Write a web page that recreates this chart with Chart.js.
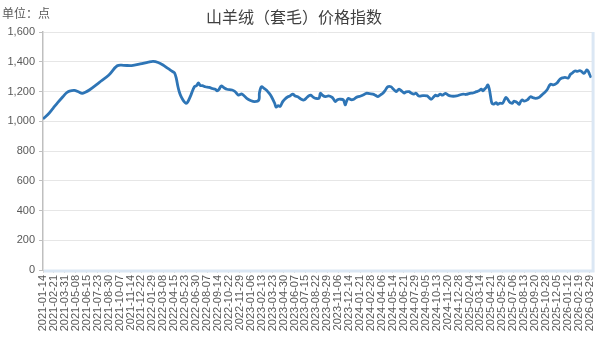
<!DOCTYPE html>
<html>
<head>
<meta charset="utf-8">
<script src="https://cdn.jsdelivr.net/npm/chart.js@4/dist/chart.umd.min.js"></script>
<style>
  html, body { margin: 0; padding: 0; background: #fff; }
  #wrap { width: 605px; height: 341px; position: relative; }
</style>
</head>
<body>
<div id="wrap"><canvas id="chart"></canvas></div>
<script>
// Chart title and unit
const chartTitle = '山羊绒（套毛）价格指数';
const unitLabel = '单位：点';

// Start date of the series, x values are days since this date
const startDate = '2021-01-14';

// Days since start date
const dayOffsets = [
    0, 17, 35, 51, 69, 82, 92, 109, 123, 136, 147, 161, 195, 229, 258, 280, 308, 338, 366, 383,
    400, 417, 434, 451, 457, 463, 469, 474, 480, 489, 497, 503, 514, 526, 534, 540, 547, 554, 564, 578,
    588, 599, 605, 612, 619, 629, 639, 657, 667, 679, 691, 708, 721, 735, 750, 752, 759, 769, 776, 787,
    794, 805, 810, 817, 824, 833, 841, 851, 858, 868, 876, 885, 896, 907, 917, 923, 930, 940, 947, 959,
    964, 971, 982, 992, 1004, 1009, 1016, 1023, 1033, 1044, 1050, 1055, 1061, 1070, 1080, 1088, 1095, 1104, 1112, 1123,
    1135, 1146, 1155, 1164, 1173, 1181, 1190, 1198, 1209, 1218, 1227, 1233, 1238, 1248, 1255, 1262, 1272, 1279, 1289, 1296,
    1306, 1320, 1335, 1341, 1349, 1358, 1364, 1371, 1380, 1388, 1398, 1406, 1415, 1426, 1437, 1450, 1460, 1470, 1483, 1494,
    1506, 1515, 1523, 1529, 1534, 1541, 1546, 1551, 1555, 1560, 1566, 1575, 1580, 1587, 1597, 1608, 1614, 1620, 1624, 1631,
    1636, 1642, 1648, 1655, 1659, 1665, 1672, 1683, 1694, 1703, 1711, 1723, 1731, 1740, 1751, 1763, 1774, 1785, 1797, 1806,
    1814, 1825, 1833, 1840, 1848, 1857, 1865, 1871, 1879, 1884, 1890, 1895, 1899, 1905
];

// Index values (points)
const indexValues = [
    1015, 1045, 1087, 1125, 1165, 1192, 1203, 1208, 1198, 1188, 1195, 1210, 1260, 1311, 1373, 1376, 1374, 1385, 1398, 1403,
    1395, 1378, 1355, 1333, 1325, 1290, 1232, 1195, 1165, 1135, 1121, 1130, 1176, 1232, 1240, 1258, 1240, 1239, 1232, 1228,
    1220, 1215, 1205, 1215, 1237, 1225, 1215, 1210, 1200, 1176, 1183, 1154, 1140, 1132, 1143, 1190, 1232, 1220, 1210, 1185,
    1165, 1121, 1095, 1105, 1100, 1132, 1150, 1165, 1170, 1183, 1170, 1165, 1150, 1143, 1160, 1170, 1176, 1160, 1154, 1154,
    1188, 1175, 1165, 1170, 1161, 1150, 1132, 1145, 1148, 1143, 1110, 1135, 1154, 1145, 1148, 1160, 1165, 1170, 1176, 1188,
    1185, 1183, 1175, 1165, 1178, 1188, 1210, 1232, 1232, 1215, 1199, 1210, 1215, 1200, 1190, 1198, 1199, 1190, 1183, 1188,
    1170, 1172, 1170, 1160, 1148, 1165, 1176, 1170, 1183, 1175, 1188, 1178, 1170, 1168, 1170, 1178, 1183, 1180, 1188, 1190,
    1199, 1205, 1215, 1205, 1215, 1230, 1244, 1215, 1170, 1121, 1115, 1125, 1114, 1121, 1121, 1159, 1150, 1132, 1125, 1121,
    1135, 1132, 1125, 1114, 1130, 1143, 1135, 1143, 1165, 1158, 1154, 1159, 1172, 1188, 1210, 1248, 1244, 1255, 1284, 1292,
    1295, 1291, 1316, 1325, 1338, 1335, 1340, 1335, 1322, 1330, 1345, 1335, 1316, 1293
];

// X axis tick labels (every 38 days)
const tickLabels = [
    '2021-01-14', '2021-02-21', '2021-03-31', '2021-05-08', '2021-06-15', '2021-07-23', '2021-08-30',
    '2021-10-07', '2021-11-14', '2021-12-22', '2022-01-29', '2022-03-08', '2022-04-15', '2022-05-23',
    '2022-06-30', '2022-08-07', '2022-09-14', '2022-10-22', '2022-11-29', '2023-01-06', '2023-02-13',
    '2023-03-23', '2023-04-30', '2023-06-07', '2023-07-15', '2023-08-22', '2023-09-29', '2023-11-06',
    '2023-12-14', '2024-01-21', '2024-02-28', '2024-04-06', '2024-05-14', '2024-06-21', '2024-07-29',
    '2024-09-05', '2024-10-13', '2024-11-20', '2024-12-28', '2025-02-04', '2025-03-14', '2025-04-21',
    '2025-05-29', '2025-07-06', '2025-08-13', '2025-09-20', '2025-10-28', '2025-12-05', '2026-01-12',
    '2026-02-19', '2026-03-29'
];

// Turn a date string into days since the start date
function toDays(dateStr) {
    return Math.round((Date.parse(dateStr) - Date.parse(startDate)) / 86400000);
}

const tickDays = tickLabels.map(toDays);
const seriesData = dayOffsets.map((d, i) => ({ x: d, y: indexValues[i] }));

// Draws the title, unit label and the light blue frame edges
const decorPlugin = {
    id: 'decor',
    afterDraw: (chart) => {
        const ctx = chart.ctx;
        const area = chart.chartArea;
        ctx.save();
        ctx.fillStyle = '#404040';
        ctx.font = '16px "Noto Sans CJK SC"';
        ctx.textAlign = 'center';
        ctx.textBaseline = 'middle';
        ctx.fillText(chartTitle, 294, 17);
        ctx.fillStyle = '#595959';
        ctx.font = '12px "Noto Sans CJK SC"';
        ctx.textAlign = 'left';
        ctx.fillText(unitLabel, 2, 13);

        ctx.strokeStyle = '#dbe7f4';
        ctx.lineWidth = 3;
        ctx.beginPath();
        ctx.moveTo(area.left + 1, area.bottom + 1);
        ctx.lineTo(area.right + 1, area.bottom + 1);
        ctx.lineTo(area.right + 1, area.top);
        ctx.stroke();
        ctx.restore();
    }
};

new Chart(document.getElementById('chart'), {
    type: 'line',
    data: {
        datasets: [{
            data: seriesData,
            borderColor: '#2e75b6',
            borderWidth: 2.8,
            pointRadius: 0,
            tension: 0.35,
            fill: false
        }]
    },
    options: {
        responsive: true,
        maintainAspectRatio: false,
        animation: false,
        layout: { padding: { top: 32, right: 4, left: 0, bottom: 0 } },
        plugins: {
            legend: { display: false },
            title: { display: false },
            tooltip: { enabled: false }
        },
        scales: {
            x: {
                type: 'linear',
                min: 0,
                max: 1908,
                afterBuildTicks: (scale) => {
                    scale.ticks = tickDays.map(v => ({ value: v }));
                },
                afterFit: (scale) => { scale.height = 71; },
                ticks: {
                    autoSkip: false,
                    minRotation: 90,
                    maxRotation: 90,
                    padding: 2,
                    color: '#595959',
                    font: { family: 'Liberation Sans', size: 11 },
                    callback: (value, index) => tickLabels[index]
                },
                grid: { display: true, drawOnChartArea: false, tickLength: 3, color: '#d9d9d9' },
                border: { display: false }
            },
            y: {
                min: 0,
                max: 1600,
                afterFit: (scale) => { scale.width = 43; },
                ticks: {
                    stepSize: 200,
                    padding: 4,
                    color: '#595959',
                    font: { family: 'Liberation Sans', size: 11 }
                },
                grid: { color: '#e6e6e6', lineWidth: 1, tickLength: 4, tickColor: '#bfbfbf' },
                border: { display: true, color: '#bfbfbf', width: 1.5 }
            }
        }
    },
    plugins: [decorPlugin]
});
</script>
</body>
</html>
